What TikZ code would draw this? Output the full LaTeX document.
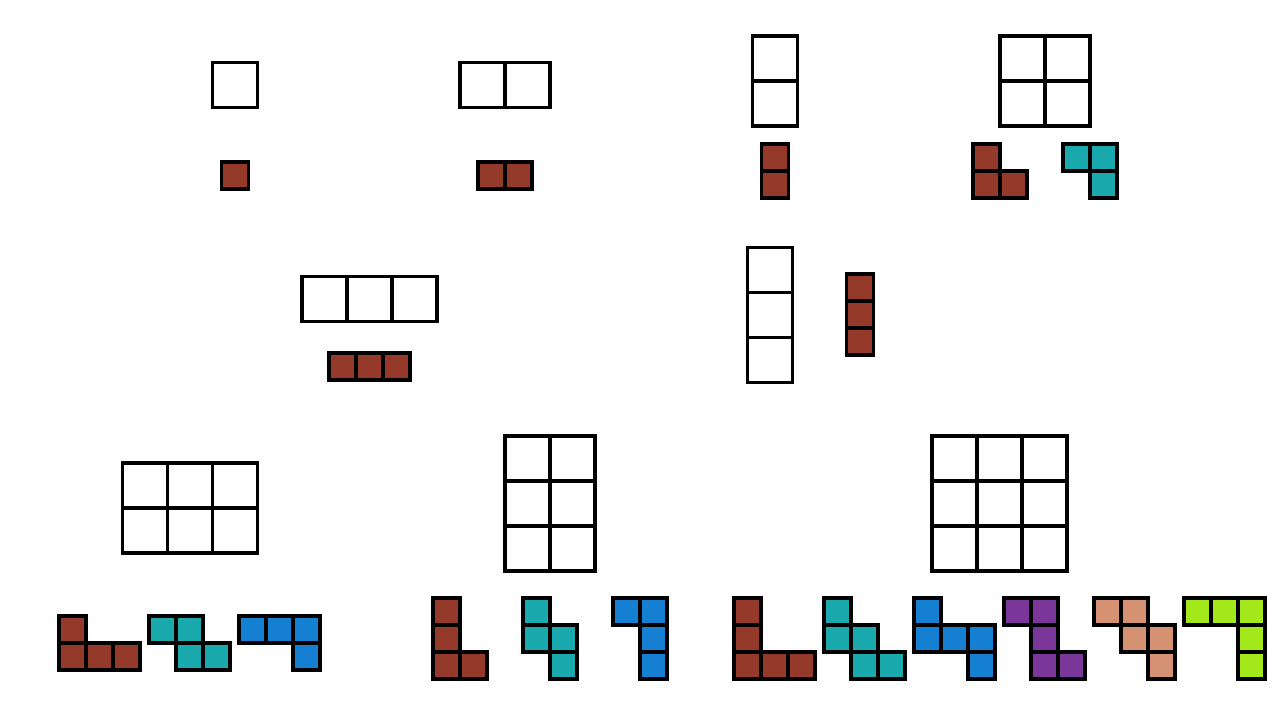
\documentclass[tikz,border=0pt]{standalone}
\definecolor{pred}{HTML}{953A2B}
\definecolor{pteal}{HTML}{1AA9AD}
\definecolor{pblue}{HTML}{1580D2}
\definecolor{ppurple}{HTML}{7A3699}
\definecolor{ptan}{HTML}{D49272}
\definecolor{plime}{HTML}{A2E81A}
\tikzset{
  gridcell/.style={draw=black, line width=1.75pt, fill=white},
  piececell/.style={draw=black, line width=1.6pt},
}
% board: x0, y0, cols, rows (cell 45px)
\newcommand\bboard[4]{%
  \foreach \ci in {1,...,#3}{\foreach \cj in {1,...,#4}{%
    \draw[gridcell] ({#1+45*(\ci-1)},{#2+45*(\cj-1)}) rectangle ++(45,45);}}}
% piece: x0, y0, colour, list of col/row (cell 27px)
\newcommand\tpiece[4]{%
  \foreach \ci/\cj in {#4}{%
    \draw[piececell, fill=#3] ({#1+27*\ci},{#2+27*\cj}) rectangle ++(27,27);}}
\begin{document}
\begin{tikzpicture}[x=0.5pt,y=-0.5pt]
\useasboundingbox[fill=white] (0,0) rectangle (1280,720);
% top row
\bboard{212.5}{62.5}{1}{1}
\tpiece{221.5}{162}{pred}{0/0}
\bboard{460}{62.5}{2}{1}
\tpiece{478}{162}{pred}{0/0,1/0}
\bboard{752.5}{36}{1}{2}
\tpiece{761.5}{144}{pred}{0/0,0/1}
\bboard{1000}{36}{2}{2}
\tpiece{973}{144}{pred}{0/0,0/1,1/1}
\tpiece{1063}{144}{pteal}{0/0,1/0,1/1}
% middle row
\bboard{302}{276.5}{3}{1}
\tpiece{329}{353}{pred}{0/0,1/0,2/0}
\bboard{747.5}{247.5}{1}{3}
\tpiece{846.5}{274}{pred}{0/0,0/1,0/2}
% bottom left
\bboard{122.5}{463}{3}{2}
\tpiece{59}{616}{pred}{0/0,0/1,1/1,2/1}
\tpiece{149}{616}{pteal}{0/0,1/0,1/1,2/1}
\tpiece{239}{616}{pblue}{0/0,1/0,2/0,2/1}
% bottom middle
\bboard{505}{436}{2}{3}
\tpiece{433}{598}{pred}{0/0,0/1,0/2,1/2}
\tpiece{523}{598}{pteal}{0/0,0/1,1/1,1/2}
\tpiece{613}{598}{pblue}{0/0,1/0,1/1,1/2}
% bottom right
\bboard{932}{436}{3}{3}
\tpiece{734}{598}{pred}{0/0,0/1,0/2,1/2,2/2}
\tpiece{824}{598}{pteal}{0/0,0/1,1/1,1/2,2/2}
\tpiece{914}{598}{pblue}{0/0,0/1,1/1,2/1,2/2}
\tpiece{1004}{598}{ppurple}{0/0,1/0,1/1,1/2,2/2}
\tpiece{1094}{598}{ptan}{0/0,1/0,1/1,2/1,2/2}
\tpiece{1184}{598}{plime}{0/0,1/0,2/0,2/1,2/2}
\end{tikzpicture}
\end{document}
